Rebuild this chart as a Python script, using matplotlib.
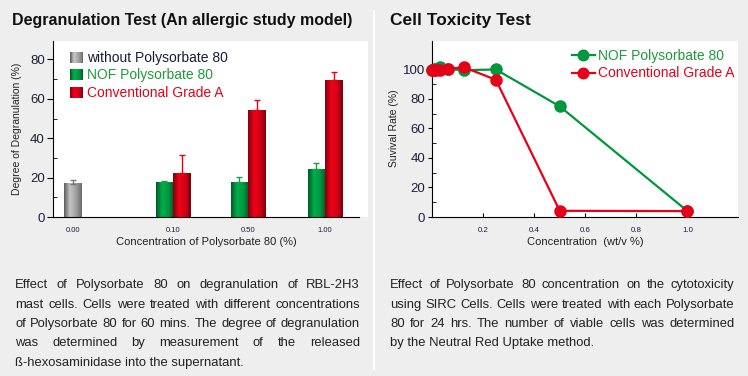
import numpy as np
import matplotlib
matplotlib.use("Agg")
import matplotlib.pyplot as plt
from matplotlib.colors import LinearSegmentedColormap
from matplotlib.patches import Patch, Rectangle
from matplotlib.legend_handler import HandlerBase
from matplotlib.ticker import MultipleLocator, FixedLocator

# ---- data -------------------------------------------------------------
degr_labels = ["0.00", "0.10", "0.50", "1.00"]
without_val = [16.8]
without_err = [2.2]
nof_val = [17.7, 17.7, 24.3]
nof_err = [0.4, 2.7, 3.3]
conv_val = [22.3, 54.2, 69.5]
conv_err = [9.4, 5.4, 3.9]

conc = [0.0, 0.0078, 0.0156, 0.03125, 0.0625, 0.125, 0.25, 0.5, 1.0]
surv_nof = [99.8, 100.0, 100.2, 101.5, 100.2, 99.5, 100.0, 75.0, 4.0]
surv_conv = [99.5, 99.5, 99.8, 99.7, 100.5, 101.5, 93.0, 4.2, 4.0]

left_text = [
    "Effect of Polysorbate 80 on degranulation of RBL-2H3",
    "mast cells. Cells were treated with different concentrations",
    "of Polysorbate 80 for 60 mins. The degree of degranulation",
    "was determined by measurement of the released",
    "ß-hexosaminidase into the supernatant.",
]
right_text = [
    "Effect of Polysorbate 80 concentration on the cytotoxicity",
    "using SIRC Cells. Cells were treated with each Polysorbate",
    "80 for 24 hrs. The number of viable cells was determined",
    "by the Neutral Red Uptake method.",
]

# ---- style ------------------------------------------------------------
W, H = 748, 376
BG = "#eeeeee"
TXT = "#222222"
TICK = "#1e1e38"
GREEN = "#00963c"
RED = "#e60019"
plt.rcParams["font.family"] = ["Liberation Sans", "DejaVu Sans"]

cm_gray = LinearSegmentedColormap.from_list("g", ["#5e5e5e", "#c4c4c4", "#a0a0a0", "#6a6a6a"])
cm_green = LinearSegmentedColormap.from_list("gr", ["#005a24", "#00ad4c", "#009a42", "#005c26"])
cm_red = LinearSegmentedColormap.from_list("r", ["#80000e", "#ee0018", "#d60016", "#7a000c"])
grad = np.linspace(0, 1, 64).reshape(1, -1)


def px(x0, y0, x1, y1):
    # axes rect from pixel box (top-left origin)
    return [x0 / W, 1 - y1 / H, (x1 - x0) / W, (y1 - y0) / H]


class GradHandler(HandlerBase):
    def __init__(self, cmap):
        super().__init__()
        self.cmap = cmap

    def create_artists(self, legend, orig_handle, xdescent, ydescent,
                       width, height, fontsize, trans):
        n = 16
        arts = []
        for i in range(n):
            arts.append(Rectangle((-xdescent + i * width / n, -ydescent), width / n + 0.05, height,
                                  facecolor=self.cmap((i + 0.5) / n), edgecolor="none",
                                  transform=trans))
        return arts


fig = plt.figure(figsize=(W / 100, H / 100), dpi=100, facecolor=BG)

# separator
fig.add_artist(Rectangle((372.5 / W, 1 - 370 / H), 2.5 / W, 360 / H,
                         transform=fig.transFigure, facecolor="white", edgecolor="none"))

# ---- left: degranulation bars -----------------------------------------
ax1 = fig.add_axes(px(53, 40.7, 368, 217))
pos = np.array([0.0, 1.32, 2.31, 3.32])
bw = 0.23


def grad_bar(ax, xc, h, cmap):
    ax.imshow(grad, cmap=cmap, extent=(xc - bw / 2, xc + bw / 2, 0, h),
              aspect="auto", zorder=2, interpolation="bilinear")


grad_bar(ax1, pos[0], without_val[0], cm_gray)
ax1.errorbar([pos[0]], without_val, yerr=[[0], without_err], fmt="none",
             ecolor="#777777", elinewidth=1, capsize=2, capthick=1, zorder=3)
for i in range(3):
    grad_bar(ax1, pos[i + 1] - bw / 2, nof_val[i], cm_green)
    grad_bar(ax1, pos[i + 1] + bw / 2, conv_val[i], cm_red)
ax1.errorbar(pos[1:] - bw / 2, nof_val, yerr=[[0] * 3, nof_err], fmt="none",
             ecolor="#1aa040", elinewidth=1, capsize=2, capthick=1, zorder=3)
ax1.errorbar(pos[1:] + bw / 2, conv_val, yerr=[[0] * 3, conv_err], fmt="none",
             ecolor=RED, elinewidth=1, capsize=2, capthick=1, zorder=3)

ax1.set_xlim(-0.259, 3.886)
ax1.set_ylim(0, 89.5)
ax1.set_facecolor("white")
ax1.spines[["top", "right"]].set_visible(False)
ax1.spines["bottom"].set_bounds(-0.259, 3.767)
ax1.set_xticks(pos, degr_labels)
ax1.yaxis.set_major_locator(MultipleLocator(20))
ax1.yaxis.set_minor_locator(FixedLocator([10, 30, 50, 70]))
ax1.tick_params(axis="x", length=0, labelsize=5.5, labelcolor=TICK, pad=7)
ax1.tick_params(axis="y", which="major", direction="out", length=4, labelsize=9.5,
                labelcolor=TICK, pad=2)
ax1.tick_params(axis="y", which="minor", direction="in", length=3)

h_w = Patch()
h_n = Patch()
h_c = Patch()
leg1 = ax1.legend([h_w, h_n, h_c], ["without Polysorbate 80", "NOF Polysorbate 80", "Conventional Grade A"],
                  handler_map={h_w: GradHandler(cm_gray), h_n: GradHandler(cm_green), h_c: GradHandler(cm_red)},
                  loc="upper left", bbox_to_anchor=(70 / W, 1 - 51 / H), bbox_transform=fig.transFigure,
                  frameon=False, fontsize=10, handlelength=0.95, handleheight=0.85,
                  handletextpad=0.25, labelspacing=0.25, borderpad=0, borderaxespad=0)
for t, c in zip(leg1.get_texts(), ["#1a1a3a", "#1f9a3a", RED]):
    t.set_color(c)

fig.text(206 / W, 1 - 242 / H, "Concentration of Polysorbate 80 (%)", fontsize=8,
         color=TXT, ha="center", va="center")
fig.text(17 / W, 1 - 129 / H, "Degree of Degranulation (%)", fontsize=7.5,
         color=TXT, ha="center", va="center", rotation=90)

# ---- right: cell toxicity lines ---------------------------------------
ax2 = fig.add_axes(px(432, 40.7, 738, 217))
ax2.plot(conc, surv_nof, color=GREEN, lw=1.6, marker="o", ms=8, clip_on=False, zorder=3,
         label="NOF Polysorbate 80")
ax2.plot(conc, surv_conv, color=RED, lw=1.6, marker="o", ms=8, clip_on=False, zorder=4,
         label="Conventional Grade A")
ax2.set_xlim(0, 1.198)
ax2.set_ylim(0, 119.5)
ax2.set_facecolor("white")
ax2.spines[["top", "right"]].set_visible(False)
ax2.set_xticks([0.2, 0.4, 0.6, 0.8, 1.0], ["0.2", "0.4", "0.6", "0.8", "1.0"])
ax2.yaxis.set_major_locator(FixedLocator([0, 20, 40, 60, 80, 100]))
ax2.yaxis.set_minor_locator(FixedLocator([10, 30, 50, 70, 90]))
ax2.tick_params(axis="x", direction="in", length=3, labelsize=5.7, labelcolor=TICK, pad=7)
ax2.tick_params(axis="y", which="major", direction="out", length=3, labelsize=9.5,
                labelcolor=TICK, pad=2)
ax2.tick_params(axis="y", which="minor", direction="in", length=3)
leg2 = ax2.legend(loc="upper left", bbox_to_anchor=(572 / W, 1 - 49 / H), bbox_transform=fig.transFigure,
                  frameon=False, fontsize=10, handlelength=1.65, handletextpad=0.2,
                  labelspacing=0.25, borderpad=0, borderaxespad=0, markerscale=0.95)
for t, c in zip(leg2.get_texts(), ["#1f9a3a", RED]):
    t.set_color(c)

fig.text(585 / W, 1 - 242 / H, "Concentration  (wt/v %)", fontsize=8,
         color=TXT, ha="center", va="center")
fig.text(394 / W, 1 - 128 / H, "Suvival Rate (%)", fontsize=7.5,
         color=TXT, ha="center", va="center", rotation=90)

# ---- titles -----------------------------------------------------------
fig.text(12 / W, 1 - 25 / H, "Degranulation Test (An allergic study model)", fontsize=11.5,
         fontweight="bold", color="#111111", va="baseline")
fig.text(390 / W, 1 - 25 / H, "Cell Toxicity Test", fontsize=12.5,
         fontweight="bold", color="#111111", va="baseline")

# ---- justified captions (word by word) ---------------------------------
renderer = fig.canvas.get_renderer()
FS = 9.4


def text_w(s):
    t = fig.text(0, 0, s, fontsize=FS)
    w = t.get_window_extent(renderer).width
    t.remove()
    return w


def justify(lines, x0, x1, y0, dy):
    for i, line in enumerate(lines):
        yf = 1 - round(y0 + i * dy) / H
        if i == len(lines) - 1:
            fig.text(x0 / W, yf, line, fontsize=FS, color=TXT, va="baseline")
            continue
        words = line.split()
        widths = [text_w(w) for w in words]
        gap = (x1 - x0 - sum(widths)) / (len(words) - 1)
        x = x0
        for w, wd in zip(words, widths):
            fig.text(x / W, yf, w, fontsize=FS, color=TXT, va="baseline")
            x += wd + gap


justify(left_text, 15, 360, 288, 19.5)
justify(right_text, 390, 734.5, 288, 19.5)

fig.savefig("out.png", dpi=100, facecolor=BG)
